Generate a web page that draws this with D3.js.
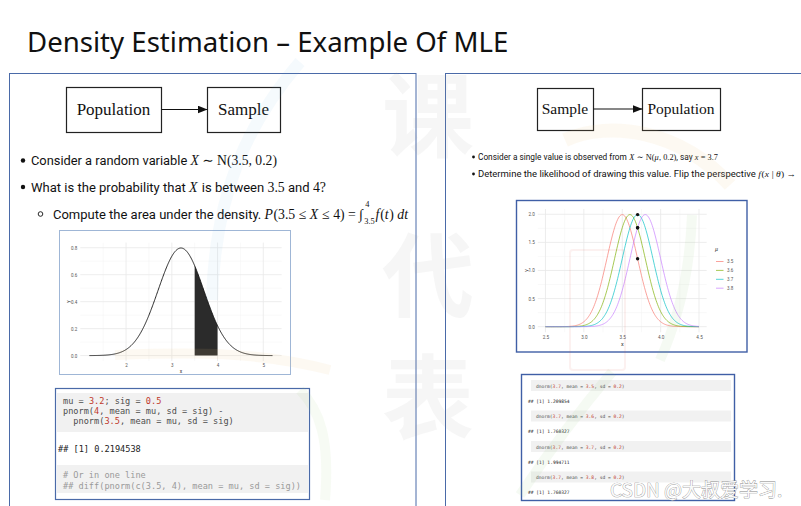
<!DOCTYPE html>
<html>
<head>
<meta charset="utf-8">
<script src="https://cdn.jsdelivr.net/npm/d3@7"></script>
<style>
body { margin: 0; background: #fff; }
svg { display: block; }
svg text { white-space: pre; }
</style>
</head>
<body>
<svg width="801" height="506"></svg>
<script>
const svg = d3.select("svg");

// ---- data ----
const leftMu = 3.2;
const leftSd = 0.5;
const leftRange = [1.2, 5.2];
const shadeRange = [3.5, 4];
const leftXTicks = [2, 3, 4, 5];
const leftYTicks = [0, 0.2, 0.4, 0.6, 0.8];

const rightMus = [3.5, 3.6, 3.7, 3.8];
const rightSd = 0.2;
const rightRange = [2.5, 4.5];
const observedX = 3.7;
const rightXTicks = [2.5, 3.0, 3.5, 4.0, 4.5];
const rightYTicks = [0, 0.5, 1.0, 1.5, 2.0];
const muColors = ["#F8766D", "#7CAE00", "#00BFC4", "#C77CFF"];
const rightResults = ["1.209854", "1.760327", "1.994711", "1.760327"];

const SANS = "Roboto, 'Noto Sans', sans-serif";
const SERIF = "'Liberation Serif', 'DejaVu Serif', serif";
const MONO = "'DejaVu Sans Mono', 'Liberation Mono', monospace";

function dnorm(x, m, s) {
    return Math.exp(-(x - m) * (x - m) / (2 * s * s)) / (s * Math.sqrt(2 * Math.PI));
}

// draw pieces of text one after another, measuring each
function rich(g, x, y, parts) {
    let cx = x;
    parts.forEach(p => {
        const t = g.append("text")
            .attr("x", cx).attr("y", y + (p.dy || 0))
            .attr("xml:space", "preserve")
            .attr("font-family", p.ff || SANS)
            .attr("font-size", p.fs)
            .attr("font-style", p.it ? "italic" : null)
            .attr("fill", p.fill || "#111")
            .text(p.t);
        if (!p.noAdv) cx += t.node().getComputedTextLength() + (p.gap || 0);
    });
    return cx;
}

// squeeze/stretch a line group so that it ends where the slide's line ends
function fit(g, x0, x1, target) {
    const k = (target - x0) / (x1 - x0);
    g.attr("transform", `translate(${x0},0) scale(${k},1) translate(${-x0},0)`);
}

// ---- title ----
svg.append("text")
    .attr("x", 27).attr("y", 52)
    .attr("font-family", "'Noto Sans', 'Open Sans', sans-serif")
    .attr("font-size", 27.6)
    .attr("fill", "#111")
    .text("Density Estimation \u2013 Example Of MLE");

// ---- panels ----
svg.append("rect").attr("x", 9.5).attr("y", 73.5).attr("width", 406.5).attr("height", 450)
    .attr("fill", "none").attr("stroke", "#4a6aa8").attr("stroke-width", 1);
svg.append("rect").attr("x", 445.5).attr("y", 73.5).attr("width", 380).attr("height", 450)
    .attr("fill", "none").attr("stroke", "#4a6aa8").attr("stroke-width", 1);

// ---- flow boxes ----
svg.append("defs").append("marker")
    .attr("id", "arr").attr("viewBox", "0 0 10 8").attr("refX", 10).attr("refY", 4)
    .attr("markerWidth", 10).attr("markerHeight", 8).attr("markerUnits", "userSpaceOnUse")
    .attr("orient", "auto")
    .append("path").attr("d", "M0,0L10,4L0,8Z").attr("fill", "#111");

function flow(boxes, y0, h, fs) {
    boxes.forEach(b => {
        svg.append("rect").attr("x", b.x + 0.5).attr("y", y0 + 0.5).attr("width", b.w).attr("height", h)
            .attr("fill", "#fff").attr("stroke", "#222").attr("stroke-width", 1.2);
        svg.append("text").attr("x", b.x + b.w / 2).attr("y", y0 + h / 2 + fs * 0.33)
            .attr("text-anchor", "middle").attr("font-family", SERIF).attr("font-size", fs)
            .attr("fill", "#111").text(b.label);
    });
    svg.append("line")
        .attr("x1", boxes[0].x + boxes[0].w + 0.5).attr("x2", boxes[1].x + 0.5)
        .attr("y1", y0 + h / 2).attr("y2", y0 + h / 2)
        .attr("stroke", "#111").attr("stroke-width", 1.2).attr("marker-end", "url(#arr)");
}
flow([{x: 66, w: 95, label: "Population"}, {x: 207, w: 73, label: "Sample"}], 87, 45, 17);
flow([{x: 537, w: 56, label: "Sample"}, {x: 642, w: 78, label: "Population"}], 88, 42, 15.5);

// ---- left bullets ----
const LS = 13.2, LM = 14;
svg.append("circle").attr("cx", 23).attr("cy", 160.5).attr("r", 2.2).attr("fill", "#111");
const l1 = svg.append("g");
let e1 = rich(l1, 31, 165.5, [
    {t: "Consider a random variable ", fs: LS},
    {t: "X", fs: LM, ff: SERIF, it: true},
    {t: " \u223C ", fs: LM, ff: SERIF},
    {t: "N(3.5, 0.2)", fs: LM, ff: SERIF}
]);
fit(l1, 31, e1, 277);

svg.append("circle").attr("cx", 23).attr("cy", 187).attr("r", 2.2).attr("fill", "#111");
const l2 = svg.append("g");
let e2 = rich(l2, 31, 192, [
    {t: "What is the probability that ", fs: LS},
    {t: "X", fs: LM, ff: SERIF, it: true, gap: 1},
    {t: " is between ", fs: LS},
    {t: "3.5", fs: LM, ff: SERIF},
    {t: " and ", fs: LS},
    {t: "4?", fs: LM, ff: SERIF}
]);
fit(l2, 31, e2, 326);

svg.append("circle").attr("cx", 40.5).attr("cy", 214).attr("r", 2.3)
    .attr("fill", "none").attr("stroke", "#111").attr("stroke-width", 0.9);
const l3 = svg.append("g");
let ix = rich(l3, 53, 219, [
    {t: "Compute the area under the density. ", fs: LS},
    {t: "P", fs: LM, ff: SERIF, it: true, gap: 0.5},
    {t: "(3.5 \u2264 ", fs: LM, ff: SERIF},
    {t: "X", fs: LM, ff: SERIF, it: true, gap: 0.5},
    {t: " \u2264 4) = ", fs: LM, ff: SERIF},
    {t: "\u222B", fs: LM, ff: SERIF, gap: 1.2}
]);
rich(l3, ix + 1, 207.5, [{t: "4", fs: 8.5, ff: SERIF, noAdv: true}]);
let ix2 = rich(l3, ix, 224, [{t: "3.5", fs: 8.5, ff: SERIF, gap: 0.8}]);
let e3 = rich(l3, ix2, 219, [
    {t: "f", fs: LM, ff: SERIF, it: true, gap: 0.8},
    {t: "(", fs: LM, ff: SERIF},
    {t: "t", fs: LM, ff: SERIF, it: true, gap: 0.6},
    {t: ") ", fs: LM, ff: SERIF},
    {t: "dt", fs: LM, ff: SERIF, it: true}
]);
fit(l3, 53, e3, 408);

// ---- right bullets ----
svg.append("circle").attr("cx", 473.5).attr("cy", 157).attr("r", 1.4).attr("fill", "#111");
const r1 = svg.append("g");
let f1 = rich(r1, 478, 160, [
    {t: "Consider a single value is observed from ", fs: 9},
    {t: "X", fs: 9, ff: SERIF, it: true, gap: 0.4},
    {t: " \u223C ", fs: 9, ff: SERIF},
    {t: "N(", fs: 9, ff: SERIF},
    {t: "\u03BC", fs: 9, ff: SERIF, it: true, gap: 0.4},
    {t: ", 0.2)", fs: 9, ff: SERIF},
    {t: ", say ", fs: 9},
    {t: "x", fs: 9, ff: SERIF, it: true, gap: 0.4},
    {t: " = 3.7", fs: 9, ff: SERIF}
]);
fit(r1, 478, f1, 718);

svg.append("circle").attr("cx", 473.5).attr("cy", 174).attr("r", 1.4).attr("fill", "#111");
const r2 = svg.append("g");
let f2 = rich(r2, 478, 177, [
    {t: "Determine the likelihood of drawing this value. Flip the perspective ", fs: 9},
    {t: "f", fs: 9, ff: SERIF, it: true, gap: 0.5},
    {t: "(", fs: 9, ff: SERIF},
    {t: "x", fs: 9, ff: SERIF, it: true, gap: 0.4},
    {t: " | ", fs: 9, ff: SERIF},
    {t: "\u03B8", fs: 9, ff: SERIF, it: true, gap: 0.4},
    {t: ") \u2192", fs: 9, ff: SERIF}
]);
fit(r2, 478, f2, 796);

// ---- helper for ggplot-like minimal panel ----
function ggPanel(g, x, y, xMajor, yMajor, fmtX, fmtY, labFs) {
    const [x0, x1] = x.range();
    const [y0, y1] = y.range();
    const xMinor = d3.range(0, xMajor.length - 1).map(i => (xMajor[i] + xMajor[i + 1]) / 2);
    const step = xMajor[1] - xMajor[0];
    if (xMajor[0] - step / 2 >= x.domain()[0]) xMinor.unshift(xMajor[0] - step / 2);
    const yMinor = d3.range(0, yMajor.length - 1).map(i => (yMajor[i] + yMajor[i + 1]) / 2);

    g.append("g").selectAll("line").data(xMinor).join("line")
        .attr("x1", d => x(d)).attr("x2", d => x(d)).attr("y1", y0).attr("y2", y1)
        .attr("stroke", "#f2f2f2").attr("stroke-width", 0.5);
    g.append("g").selectAll("line").data(yMinor).join("line")
        .attr("y1", d => y(d)).attr("y2", d => y(d)).attr("x1", x0).attr("x2", x1)
        .attr("stroke", "#f2f2f2").attr("stroke-width", 0.5);
    g.append("g").selectAll("line").data(xMajor).join("line")
        .attr("x1", d => x(d)).attr("x2", d => x(d)).attr("y1", y0).attr("y2", y1)
        .attr("stroke", "#e8e8e8").attr("stroke-width", 0.8);
    g.append("g").selectAll("line").data(yMajor).join("line")
        .attr("y1", d => y(d)).attr("y2", d => y(d)).attr("x1", x0).attr("x2", x1)
        .attr("stroke", "#e8e8e8").attr("stroke-width", 0.8);

    const ax = g.append("g").attr("transform", `translate(0,${y0})`)
        .call(d3.axisBottom(x).tickValues(xMajor).tickFormat(fmtX).tickSize(0).tickPadding(3));
    const ay = g.append("g").attr("transform", `translate(${x0},0)`)
        .call(d3.axisLeft(y).tickValues(yMajor).tickFormat(fmtY).tickSize(0).tickPadding(3));
    [ax, ay].forEach(a => {
        a.select(".domain").remove();
        a.selectAll("text").attr("font-family", SANS).attr("font-size", labFs).attr("fill", "#555");
    });
}

// ---- left density plot ----
svg.append("rect").attr("x", 59.5).attr("y", 230.5).attr("width", 231).attr("height", 144)
    .attr("fill", "#fff").attr("stroke", "#9fb6d6").attr("stroke-width", 1);
const lg = svg.append("g");
const lx = d3.scaleLinear().domain([1.0, 5.4]).range([80.3, 281.6]);
const ly = d3.scaleLinear().domain([-0.04, 0.838]).range([361, 242.6]);
ggPanel(lg, lx, ly, leftXTicks, leftYTicks, d3.format("d"), d3.format(".1f"), 4.5);

const leftPts = d3.range(leftRange[0], leftRange[1] + 1e-9, 0.01).map(x => ({x: x, y: dnorm(x, leftMu, leftSd)}));
const shadePts = leftPts.filter(d => d.x >= shadeRange[0] - 1e-9 && d.x <= shadeRange[1] + 1e-9);
lg.append("path").datum(shadePts)
    .attr("d", d3.area().x(d => lx(d.x)).y0(ly(0)).y1(d => ly(d.y)))
    .attr("fill", "#2b2b2b");
lg.append("path").datum(leftPts)
    .attr("d", d3.line().x(d => lx(d.x)).y(d => ly(d.y)))
    .attr("fill", "none").attr("stroke", "#111").attr("stroke-width", 0.9);
lg.append("text").attr("x", (lx(1.0) + lx(5.4)) / 2).attr("y", 373).attr("text-anchor", "middle")
    .attr("font-family", SANS).attr("font-size", 5).attr("fill", "#333").text("x");
lg.append("text").attr("transform", `translate(68,${ly(0.4)}) rotate(-90)`).attr("text-anchor", "middle")
    .attr("dy", "0.35em").attr("font-family", SANS).attr("font-size", 5).attr("fill", "#333").text("y");

// ---- left code box ----
svg.append("rect").attr("x", 55.5).attr("y", 388.5).attr("width", 254).attr("height", 111)
    .attr("fill", "#fff").attr("stroke", "#4a6aa8").attr("stroke-width", 1.2);
const lc = svg.append("g");
lc.append("rect").attr("x", 57).attr("y", 393).attr("width", 251).attr("height", 39).attr("fill", "#f1f1f1");
lc.append("rect").attr("x", 57).attr("y", 465).attr("width", 251).attr("height", 28).attr("fill", "#f1f1f1");
const CODE = "#4d4d4d", NUM = "#c0392b";
const leftCode = [
    [["mu = ", CODE], ["3.2", NUM], ["; sig = ", CODE], ["0.5", NUM]],
    [["pnorm(", CODE], ["4", NUM], [", mean = mu, sd = sig) -", CODE]],
    [["  pnorm(", CODE], ["3.5", NUM], [", mean = mu, sd = sig)", CODE]]
];
leftCode.forEach((line, i) => {
    rich(lc, 63, 404 + i * 10.2, line.map(p => ({t: p[0], fill: p[1], fs: 8.6, ff: MONO})));
});
rich(lc, 58, 452, [{t: "## [1] 0.2194538", fs: 8.6, ff: MONO, fill: "#222"}]);
rich(lc, 63, 478, [{t: "# Or in one line", fs: 8.6, ff: MONO, fill: "#9a9a9a"}]);
rich(lc, 63, 489, [{t: "## diff(pnorm(c(3.5, 4), mean = mu, sd = sig))", fs: 8.6, ff: MONO, fill: "#9a9a9a"}]);

// ---- right likelihood plot ----
svg.append("rect").attr("x", 516.5).attr("y", 200.5).attr("width", 230.5).attr("height", 151.5)
    .attr("fill", "#fff").attr("stroke", "#3f5fa6").attr("stroke-width", 1.4);
const rg = svg.append("g");
const rx = d3.scaleLinear().domain([2.4, 4.6]).range([537.8, 706.7]);
const ry = d3.scaleLinear().domain([-0.1, 2.094]).range([332.3, 209]);
ggPanel(rg, rx, ry, rightXTicks, rightYTicks, d3.format(".1f"), d3.format(".1f"), 4.6);

const xs = d3.range(rightRange[0], rightRange[1] + 1e-9, 0.01);
const curves = rightMus.map((m, i) => ({mu: m, color: muColors[i], pts: xs.map(x => ({x: x, y: dnorm(x, m, rightSd)}))}));
rg.append("g").selectAll("path").data(curves).join("path")
    .attr("d", d => d3.line().x(p => rx(p.x)).y(p => ry(p.y))(d.pts))
    .attr("fill", "none").attr("stroke", d => d.color).attr("stroke-opacity", 0.75).attr("stroke-width", 0.9);
rg.append("g").selectAll("circle").data(rightMus).join("circle")
    .attr("cx", rx(observedX)).attr("cy", m => ry(dnorm(observedX, m, rightSd)))
    .attr("r", 1.7).attr("fill", "#111");
rg.append("text").attr("x", (rx(2.4) + rx(4.6)) / 2).attr("y", 346).attr("text-anchor", "middle")
    .attr("font-family", SANS).attr("font-size", 5.5).attr("fill", "#333").text("x");
rg.append("text").attr("transform", `translate(526,${ry(1.0)}) rotate(-90)`).attr("text-anchor", "middle")
    .attr("dy", "0.35em").attr("font-family", SANS).attr("font-size", 5.5).attr("fill", "#333").text("y");

// legend
const lgd = rg.append("g");
lgd.append("text").attr("x", 715).attr("y", 251).attr("font-family", SERIF).attr("font-style", "italic")
    .attr("font-size", 6).attr("fill", "#333").text("\u03BC");
const items = lgd.selectAll("g").data(curves).join("g")
    .attr("transform", (d, i) => `translate(716,${261.5 + i * 8.9})`);
items.append("line").attr("x1", 0).attr("x2", 7.5)
    .attr("stroke", d => d.color).attr("stroke-opacity", 0.75).attr("stroke-width", 0.9);
items.append("text").attr("x", 11).attr("dy", "0.35em").attr("font-family", SANS).attr("font-size", 4.5)
    .attr("fill", "#555").text(d => d3.format(".1f")(d.mu));

// ---- right code box ----
svg.append("rect").attr("x", 521.5).attr("y", 374.5).attr("width", 213).attr("height", 126)
    .attr("fill", "#fff").attr("stroke", "#3f5fa6").attr("stroke-width", 1.4);
const rc = svg.append("g");
rightMus.forEach((m, i) => {
    const top = 380 + i * 30.5;
    rc.append("rect").attr("x", 531).attr("y", top).attr("width", 200).attr("height", 11).attr("fill", "#f1f1f1");
    rich(rc, 536, top + 7.5, [
        {t: "dnorm(", fill: CODE}, {t: String(observedX), fill: NUM},
        {t: ", mean = ", fill: CODE}, {t: d3.format(".1f")(m), fill: NUM},
        {t: ", sd = ", fill: CODE}, {t: String(rightSd), fill: NUM}, {t: ")", fill: CODE}
    ].map(p => Object.assign(p, {fs: 4.6, ff: MONO})));
    rich(rc, 528, top + 22.5, [{t: "## [1] " + rightResults[i], fs: 4.6, ff: MONO, fill: "#222"}]);
});

// ---- watermarks ----
const wm = svg.append("g").attr("pointer-events", "none");
wm.append("path").attr("d", "M300,62 C250,120 215,190 212,300")
    .attr("fill", "none").attr("stroke", "#5aa9e0").attr("stroke-opacity", 0.06).attr("stroke-width", 12);
wm.append("path").attr("d", "M115,355 C200,352 260,352 330,370")
    .attr("fill", "none").attr("stroke", "#f0c080").attr("stroke-opacity", 0.1).attr("stroke-width", 10);
wm.append("path").attr("d", "M565,140 C610,120 680,130 730,185")
    .attr("fill", "none").attr("stroke", "#f0c080").attr("stroke-opacity", 0.1).attr("stroke-width", 14);
wm.append("path").attr("d", "M692,215 C690,270 678,320 660,360")
    .attr("fill", "none").attr("stroke", "#7cc46a").attr("stroke-opacity", 0.08).attr("stroke-width", 10);
wm.append("path").attr("d", "M520,495 C550,450 580,410 612,372")
    .attr("fill", "none").attr("stroke", "#7cc46a").attr("stroke-opacity", 0.08).attr("stroke-width", 10);
wm.append("path").attr("d", "M300,390 C320,410 330,440 325,500")
    .attr("fill", "none").attr("stroke", "#9ccf70").attr("stroke-opacity", 0.08).attr("stroke-width", 10);
wm.append("rect").attr("x", 570).attr("y", 250).attr("width", 55).attr("height", 120).attr("rx", 3)
    .attr("fill", "none").attr("stroke", "#d94c3c").attr("stroke-opacity", 0.08).attr("stroke-width", 2);
["\u8BFE", "\u4EE3", "\u8868"].forEach((c, i) => {
    wm.append("text").attr("x", 428).attr("y", [150, 310, 432][i]).attr("text-anchor", "middle")
        .attr("font-family", "'Noto Sans CJK SC', sans-serif").attr("font-weight", 700)
        .attr("font-size", 92).attr("fill", "#9a9a9a").attr("fill-opacity", 0.09).text(c);
});

svg.append("text").attr("x", 610).attr("y", 497)
    .attr("font-family", "'Noto Sans CJK SC', sans-serif").attr("font-size", 19)
    .attr("fill", "#fafafa").attr("stroke", "#8a8a8a").attr("stroke-width", 0.7)
    .attr("paint-order", "stroke")
    .text("CSDN @\u5927\u53D4\u7231\u5B66\u4E60.");
</script>
</body>
</html>
